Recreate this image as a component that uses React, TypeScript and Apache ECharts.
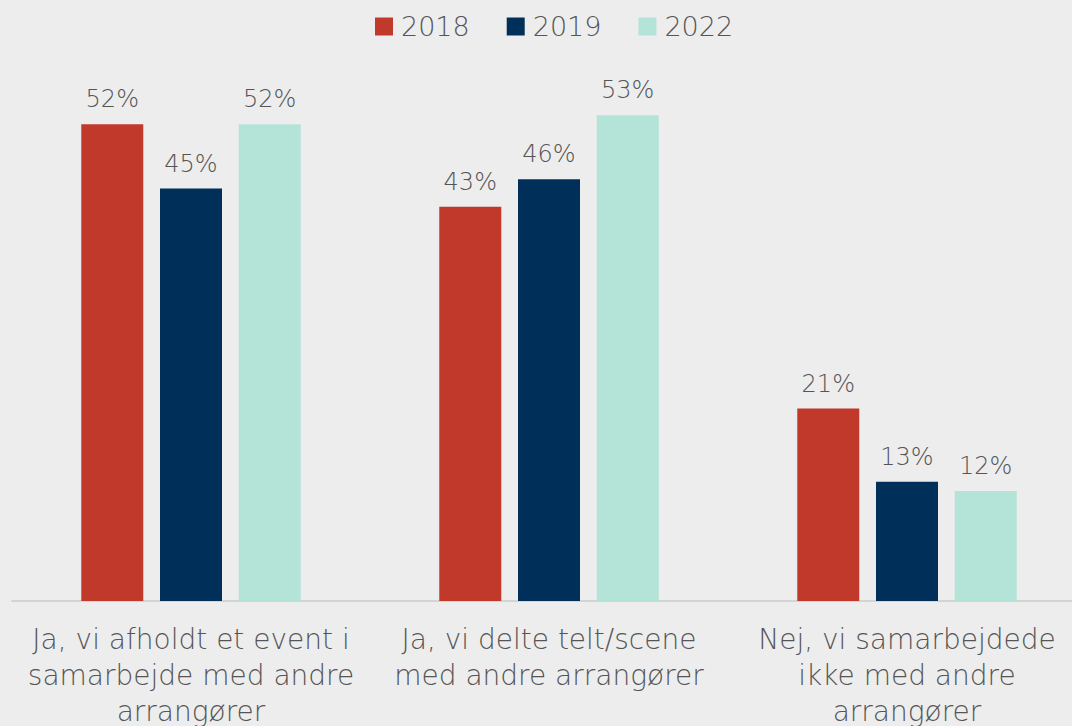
import React, { useEffect, useRef } from "react";
import * as echarts from "echarts";

const categories = [
  "Ja, vi afholdt et event i\nsamarbejde med andre\narrangører",
  "Ja, vi delte telt/scene\nmed andre arrangører",
  "Nej, vi samarbejdede\nikke med andre\narrangører",
];
const years = ["2018", "2019", "2022"];
const values2018 = [52, 43, 21];
const values2019 = [45, 46, 13];
const values2022 = [52, 53, 12];
const colors = ["#c0392b", "#00305a", "#b4e3d8"];

export default function App() {
  const ref = useRef<HTMLDivElement>(null);
  useEffect(() => {
    document.body.style.margin = "0";
    if (!ref.current) return;
    const chart = echarts.init(ref.current, null, { renderer: "svg" });
    const font = "'DejaVu Sans ExtraLight', 'DejaVu Sans'";
    const textColor = "#555555";
    const seriesData = [values2018, values2019, values2022];
    chart.setOption({
      animation: false,
      backgroundColor: "#ededed",
      legend: {
        top: 8,
        left: 370,
        itemWidth: 18,
        itemHeight: 18,
        itemGap: 37,
        icon: "rect",
        textStyle: {
          fontSize: 27,
          color: textColor,
          fontFamily: font,
          fontWeight: 200,
          padding: [0, 0, 0, 3],
        },
        data: years,
      },
      grid: {
        left: 12,
        right: -14,
        top: 51,
        bottom: 125,
        containLabel: false,
        outerBoundsMode: "none",
      },
      xAxis: {
        type: "category",
        data: categories,
        axisLine: { lineStyle: { color: "#d4d4d4", width: 2 } },
        axisTick: { show: false },
        axisLabel: {
          interval: 0,
          fontSize: 28,
          lineHeight: 36,
          color: textColor,
          fontFamily: font,
          fontWeight: 200,
          margin: 20,
        },
      },
      yAxis: {
        type: "value",
        min: 0,
        max: 60,
        show: false,
        splitLine: { show: false },
      },
      series: years.map((y, i) => ({
        name: y,
        type: "bar",
        data: seriesData[i],
        barWidth: 62,
        barGap: "27%",
        itemStyle: { color: colors[i] },
        label: {
          show: true,
          position: "top",
          distance: 13,
          formatter: "{c}%",
          fontSize: 24,
          color: textColor,
          fontFamily: font,
          fontWeight: 200,
        },
      })),
    });
    return () => chart.dispose();
  }, []);
  return <div ref={ref} style={{ width: 1072, height: 726 }} />;
}
